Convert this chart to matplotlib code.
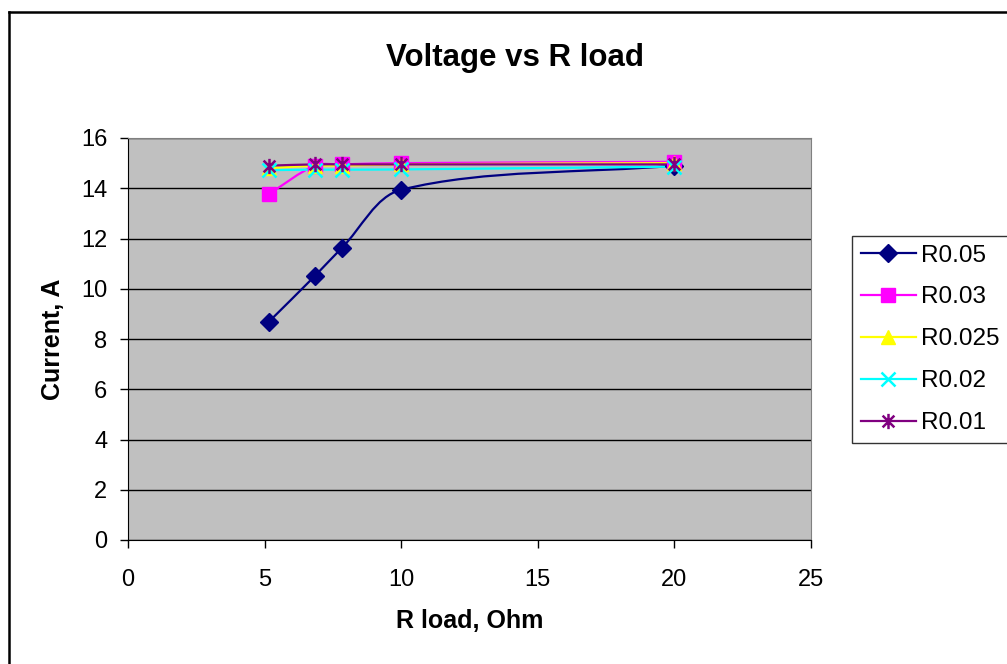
import matplotlib
matplotlib.use("Agg")
import matplotlib.pyplot as plt
import numpy as np
from matplotlib.path import Path
from matplotlib.patches import PathPatch
from matplotlib.lines import Line2D

plt.rcParams['font.family'] = ['Liberation Sans', 'DejaVu Sans']

# data
r_load = [5.15, 6.85, 7.83, 10.0, 20.0]
series_names = ['R0.05', 'R0.03', 'R0.025', 'R0.02', 'R0.01']
i_r005 = [8.68, 10.52, 11.63, 13.94, 14.9]
i_r003 = [13.77, 14.9, 14.95, 15.0, 15.05]
i_r0025 = [14.8, 14.9, 14.9, 14.95, 15.0]
i_r002 = [14.72, 14.74, 14.74, 14.75, 14.86]
i_r001 = [14.9, 14.95, 14.95, 14.95, 14.95]
currents = [i_r005, i_r003, i_r0025, i_r002, i_r001]

colors = ['#000080', '#FF00FF', '#FFFF00', '#00FFFF', '#800080']

# excel style asterisk marker: x plus vertical bar
star_verts = [(-1, -1), (1, 1), (-1, 1), (1, -1), (0, -1.3), (0, 1.3)]
star_codes = [Path.MOVETO, Path.LINETO] * 3
asterisk = Path(star_verts, star_codes)
markers = ['D', 's', '^', 'x', asterisk]
msizes = [9, 9.5, 10, 10, 11]


def smooth_path(ax, x, y):
    # excel-like smoothed line: cubic bezier, tangents scaled by segment length
    # (done in pixel space, then mapped back to data)
    p = ax.transData.transform(np.column_stack([x, y]))
    n = len(p)
    d = np.hypot(*np.diff(p, axis=0).T)
    verts = [p[0]]
    codes = [Path.MOVETO]
    for i in range(n - 1):
        if i > 0:
            c1 = p[i] + (p[i + 1] - p[i - 1]) * d[i] / (d[i - 1] + d[i]) / 3
        else:
            c1 = p[i] + (p[i + 1] - p[i]) / 3
        if i + 2 < n:
            c2 = p[i + 1] - (p[i + 2] - p[i]) * d[i] / (d[i] + d[i + 1]) / 3
        else:
            c2 = p[i + 1] - (p[i + 1] - p[i]) / 3
        verts += [c1, c2, p[i + 1]]
        codes += [Path.CURVE4] * 3
    verts = ax.transData.inverted().transform(np.array(verts))
    return Path(verts, codes)


fig = plt.figure(figsize=(10.07, 6.64), dpi=100)
ax = fig.add_axes([128 / 1007, 1 - 540 / 664, 683 / 1007, 402 / 664])
ax.set_facecolor('#C0C0C0')
ax.set_xlim(0, 25)
ax.set_ylim(0, 16)

for name, ys, c, m, ms in zip(series_names, currents, colors, markers, msizes):
    patch = PathPatch(smooth_path(ax, r_load, ys), facecolor='none', edgecolor=c,
                      lw=1.6, zorder=3)
    ax.add_patch(patch)
    mew = 1.8 if (m is asterisk or m == 'x') else 1
    ax.plot(r_load, ys, linestyle='none', marker=m, markersize=ms, color=c,
            markeredgecolor=c, markeredgewidth=mew, zorder=4)

ax.set_xticks(np.arange(0, 26, 5))
ax.set_yticks(np.arange(0, 17, 2))
ax.yaxis.grid(True, color='black', lw=1)
ax.set_axisbelow(True)
ax.tick_params(direction='out', length=6, width=1, labelsize=17, colors='black')
ax.tick_params(axis='y', pad=9)
ax.tick_params(axis='x', pad=15)
for s in ['top', 'right']:
    ax.spines[s].set_color('#808080')
for s in ['left', 'bottom']:
    ax.spines[s].set_color('black')

fig.text(515 / 1007, 1 - 66 / 664, 'Voltage vs R load', fontsize=22.5,
         fontweight='bold', ha='center', va='baseline')
ax.set_xlabel('R load, Ohm', fontsize=18, fontweight='bold')
ax.set_ylabel('Current, A', fontsize=18, fontweight='bold')
ax.xaxis.set_label_coords(0.5, -0.172)
ax.yaxis.set_label_coords(-0.092, 0.5)

handles = [Line2D([], [], color=c, lw=1.6, marker=m, markersize=ms,
                  markeredgecolor=c,
                  markeredgewidth=(1.8 if (m is asterisk or m == 'x') else 1))
           for c, m, ms in zip(colors, markers, msizes)]
leg = fig.legend(handles, series_names, loc='upper left',
                 bbox_to_anchor=(852 / 1007, 1 - 236 / 664), fontsize=17.5,
                 frameon=True, fancybox=False, edgecolor='black',
                 handlelength=2.3, handletextpad=0.2, labelspacing=0.82,
                 borderpad=0.35, borderaxespad=0)
leg.get_frame().set_linewidth(1)

# outer chart border (cropped at right and bottom)
fig.add_artist(Line2D([9 / 1007, 9 / 1007], [0, 1 - 12 / 664], color='black', lw=1.8))
fig.add_artist(Line2D([9 / 1007, 1], [1 - 12 / 664, 1 - 12 / 664], color='black', lw=1.8))

fig.savefig('out.png', dpi=100)
